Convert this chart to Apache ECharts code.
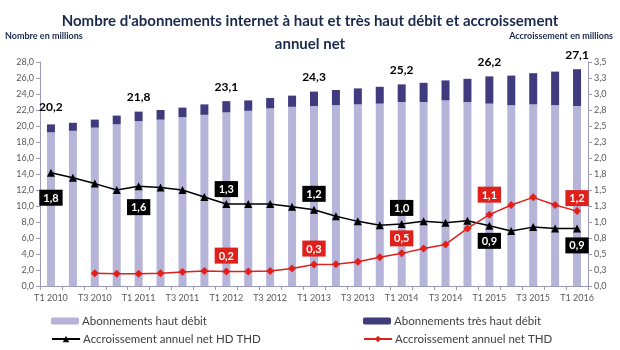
<!DOCTYPE html>
<html>
<head>
<meta charset="utf-8">
<script src="https://cdn.jsdelivr.net/npm/echarts@6/dist/echarts.min.js"></script>
<style>html,body{margin:0;padding:0;background:#fff}#c{width:620px;height:350px}</style>
</head>
<body>
<div id="c"></div>
<script>
const categories = ['T1 2010','T2 2010','T3 2010','T4 2010','T1 2011','T2 2011','T3 2011','T4 2011','T1 2012','T2 2012','T3 2012','T4 2012','T1 2013','T2 2013','T3 2013','T4 2013','T1 2014','T2 2014','T3 2014','T4 2014','T1 2015','T2 2015','T3 2015','T4 2015','T1 2016'];
const hdValues  = [19.2,19.4,19.8,20.2,20.6,20.8,21.1,21.4,21.7,21.9,22.2,22.4,22.5,22.6,22.7,22.8,23.0,23.0,23.2,23.0,22.8,22.6,22.7,22.6,22.5];
const thdValues = [1.0,1.0,1.0,1.1,1.2,1.2,1.2,1.3,1.4,1.3,1.3,1.4,1.8,1.9,2.0,2.1,2.2,2.4,2.5,2.9,3.4,3.7,3.9,4.2,4.6];
const growthHdThd = [1.77,1.69,1.60,1.50,1.56,1.54,1.50,1.39,1.28,1.28,1.28,1.24,1.19,1.09,1.01,0.95,0.97,1.01,0.99,1.02,0.94,0.86,0.92,0.90,0.90];
const growthThd = [null,null,0.20,0.19,0.19,0.20,0.22,0.235,0.225,0.225,0.235,0.275,0.335,0.34,0.38,0.45,0.51,0.585,0.65,0.90,1.115,1.265,1.385,1.265,1.17];
const leftTicks = {min:0, max:28, interval:2};
const rightTicks = {min:0, max:3.5, interval:0.25};

const fmt1 = v => (Math.round(v*10)/10).toFixed(1).replace('.', ',');
const FONT = 'Lato';

const totalLabelIdx = [0,4,8,12,16,20,24];
const blackLabels = {0:['bottom',13],4:['bottom',9],8:['top',3],12:['top',4],16:['top',4],20:['bottom',3],24:['bottom',5]};
const redLabels = {8:['top',4],12:['top',4],16:['top',3],20:['top',8],24:['top',1]};

function boxLabel(pos, dist, bg){
  return {show:true, position:pos, distance:dist, backgroundColor:bg, color:'#fff',
    fontFamily:FONT, fontWeight:'bold', fontSize:11, padding:[3,4,2,4],
    formatter: p => fmt1(p.value)};
}

const thdData = thdValues.map((v,i)=>{
  const item = {value:v};
  if (totalLabelIdx.includes(i)) {
    item.label = {show:true, position:'top', distance:i===0?11:8, color:'#000', fontFamily:FONT, fontWeight:'bold', fontSize:12,
      formatter: () => fmt1(hdValues[i]+thdValues[i])};
  }
  return item;
});
const blackData = growthHdThd.map((v,i)=>{
  const item = {value:v};
  if (blackLabels[i]) item.label = boxLabel(blackLabels[i][0], blackLabels[i][1], '#000');
  return item;
});
const redData = growthThd.map((v,i)=>{
  const item = {value:v};
  if (redLabels[i]) item.label = boxLabel(redLabels[i][0], redLabels[i][1], '#e0201b');
  return item;
});

const axisLineStyle = {color:'#9a9ab8', width:1};
const legendText = {fontFamily:FONT,fontSize:11.5,color:'#404040',padding:[0,0,0,-2]};
const chart = echarts.init(document.getElementById('c'), null, {renderer:'canvas'});
chart.setOption({
  animation:false,
  textStyle:{fontFamily:FONT},
  title:[
    {text:"Nombre d'abonnements internet à haut et très haut débit et accroissement\nannuel net", left:'center', top:5,
     textStyle:{fontFamily:FONT, fontSize:15, fontWeight:'bold', color:'#1b2a4c', lineHeight:23}},
    {text:'Nombre en millions', left:0, top:27, textStyle:{fontFamily:FONT, fontSize:9, fontWeight:'bold', color:'#1b2a4c'}},
    {text:'Accroissement en millions', right:2, top:27, textStyle:{fontFamily:FONT, fontSize:9, fontWeight:'bold', color:'#1b2a4c'}}
  ],
  grid:{left:40, right:32, top:62, bottom:64},
  legend:[
    {data:['Abonnements haut débit'], left:46, top:310, itemWidth:28, itemHeight:7, textStyle:legendText},
    {data:['Abonnements très haut débit'], left:358, top:310, itemWidth:28, itemHeight:7, textStyle:legendText},
    {data:['Accroissement annuel net HD THD'], left:46, top:328, itemWidth:28, itemHeight:8, textStyle:legendText},
    {data:['Accroissement annuel net THD'], left:358, top:328, itemWidth:28, itemHeight:8, textStyle:legendText}
  ],
  xAxis:{type:'category', data:categories, boundaryGap:true,
    axisLine:{lineStyle:axisLineStyle}, axisTick:{show:true, alignWithLabel:false, interval:0, length:4, lineStyle:axisLineStyle},
    axisLabel:{interval:1, color:'#595959', fontSize:9, fontFamily:FONT, margin:8}},
  yAxis:[
    {type:'value', min:leftTicks.min, max:leftTicks.max, interval:leftTicks.interval, splitLine:{show:false},
     axisLine:{show:true, lineStyle:axisLineStyle}, axisTick:{show:true, length:4, lineStyle:axisLineStyle},
     axisLabel:{color:'#595959', fontSize:9, fontFamily:FONT, formatter:fmt1, margin:6}},
    {type:'value', min:rightTicks.min, max:rightTicks.max, interval:rightTicks.interval, splitLine:{show:false}, position:'right',
     axisLine:{show:true, lineStyle:axisLineStyle}, axisTick:{show:true, length:4, lineStyle:axisLineStyle},
     axisLabel:{color:'#595959', fontSize:9, fontFamily:FONT, formatter:fmt1, margin:6}}
  ],
  series:[
    {name:'Abonnements haut débit', type:'bar', stack:'ab', barWidth:8, data:hdValues, itemStyle:{color:'#b6b4d9'}},
    {name:'Abonnements très haut débit', type:'bar', stack:'ab', barWidth:8, data:thdData, itemStyle:{color:'#3f3b7e'}},
    {name:'Accroissement annuel net HD THD', type:'line', yAxisIndex:1, data:blackData, symbol:'triangle', symbolSize:8,
     lineStyle:{color:'#000', width:1.5}, itemStyle:{color:'#000'}},
    {name:'Accroissement annuel net THD', type:'line', yAxisIndex:1, data:redData, symbol:'diamond', symbolSize:8,
     lineStyle:{color:'#e0201b', width:1.5}, itemStyle:{color:'#e0201b'}, connectNulls:false}
  ]
});
</script>
</body>
</html>
